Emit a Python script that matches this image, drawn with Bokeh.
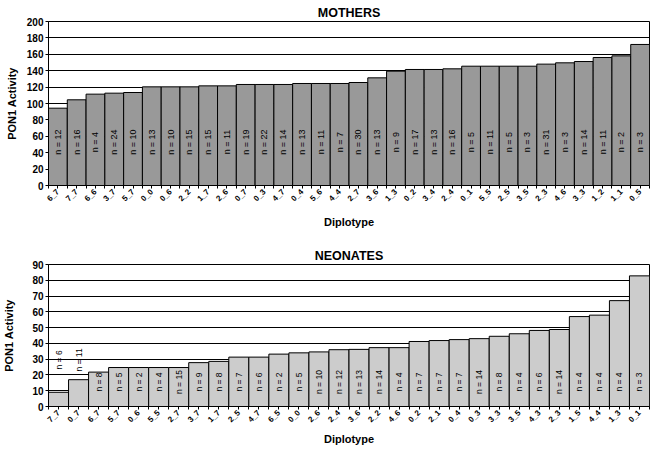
import math
from bokeh.plotting import figure
from bokeh.layouts import column
from bokeh.models import Range1d, FixedTicker, ColumnDataSource
from bokeh.embed import file_html
from bokeh.resources import INLINE
from bokeh.core.properties import value

# ---------------- data ----------------
mothers_cats = ["6_7", "7_7", "6_6", "3_7", "5_7", "0_0", "0_6", "2_2", "1_7", "2_6",
                "0_7", "0_3", "4_7", "0_4", "5_6", "4_4", "2_7", "3_6", "1_3", "0_2",
                "3_4", "2_4", "0_1", "5_5", "2_5", "3_5", "2_3", "4_6", "3_3", "1_2",
                "1_1", "0_5"]
mothers_vals = [94.3, 104.5, 111.4, 112.6, 113.4, 120.3, 120.3, 120.3, 121.5, 121.5,
                123.2, 123.2, 123.2, 124.4, 124.4, 124.4, 125.6, 131.3, 139.4, 141.5,
                141.5, 142.3, 145.5, 145.5, 145.5, 145.5, 148.0, 149.6, 151.2, 156.1,
                158.1, 172.0]
mothers_n = [12, 16, 4, 24, 10, 13, 10, 15, 15, 11, 19, 22, 14, 13, 11, 7, 30, 13, 9, 17,
             13, 16, 5, 11, 5, 3, 31, 3, 14, 11, 2, 3]
mothers_yticks = [0, 20, 40, 60, 80, 100, 120, 140, 160, 180, 200]

neonates_cats = ["7_7", "0_7", "6_7", "5_7", "0_6", "5_5", "2_7", "3_7", "1_7", "2_5",
                 "4_7", "6_5", "0_0", "2_6", "2_4", "3_6", "2_2", "4_6", "0_2", "2_1",
                 "0_4", "0_3", "3_3", "3_5", "4_3", "2_3", "1_5", "4_4", "1_3", "0_1"]
neonates_vals = [9.0, 17.0, 21.8, 24.7, 24.7, 24.7, 24.7, 27.8, 28.6, 31.3,
                 31.3, 33.2, 34.0, 34.6, 36.0, 36.2, 37.3, 37.3, 41.2, 41.8,
                 42.4, 43.0, 44.5, 46.1, 48.2, 48.8, 57.0, 57.9, 67.1, 82.8]
neonates_n = [6, 11, 8, 5, 2, 4, 15, 9, 8, 7, 6, 2, 5, 10, 12, 13, 14, 4, 7, 7,
              7, 14, 8, 4, 6, 14, 4, 4, 4, 3]
neonates_yticks = [0, 10, 20, 30, 40, 50, 60, 70, 80, 90]

FONT = "Liberation Sans"


def make_chart(title, cats, vals, ns, yticks, fill, height, b_top, b_bottom, b_right,
               label_level, short_level, n_font, ylab_standoff, xlab_standoff):
    N = len(cats)
    centers = [i + 0.5 for i in range(N)]
    label_y = [label_level if v > 20 else short_level for v in vals] if short_level else [label_level] * N
    src = ColumnDataSource(dict(x=centers, top=vals,
                                lab=["n = %d" % n for n in ns], ly=label_y))
    p = figure(width=652, height=height, x_range=Range1d(0, N),
               y_range=Range1d(yticks[0], yticks[-1]),
               output_backend="svg", toolbar_location=None,
               min_border_left=41, min_border_right=b_right,
               min_border_top=b_top, min_border_bottom=b_bottom)
    p.title.text = title
    p.title.align = "center"
    p.title.text_font = FONT
    p.title.text_font_size = "12.5px"
    p.title.text_font_style = "bold"
    p.title.text_color = "black"
    p.title.standoff = 3

    p.vbar(x="x", top="top", bottom=0, width=1, source=src,
           fill_color=fill, line_color="black", line_width=1)
    p.text(x="x", y="ly", text="lab", source=src, angle=math.pi / 2,
           text_align="center", text_baseline="middle",
           text_font=value(FONT), text_font_size=n_font, text_color="black")

    # x axis
    p.xaxis.ticker = FixedTicker(ticks=centers, minor_ticks=list(range(N + 1)))
    p.xaxis.major_label_overrides = {c: cat for c, cat in zip(centers, cats)}
    p.xaxis.major_label_orientation = math.pi / 4
    p.xaxis.major_label_text_font = FONT
    p.xaxis.major_label_text_font_size = "8px"
    p.xaxis.major_label_text_font_style = "bold"
    p.xaxis.major_label_text_color = "black"
    p.xaxis.major_label_standoff = 2
    p.xaxis.major_tick_out = 3
    p.xaxis.major_tick_in = 0
    p.xaxis.minor_tick_out = 3
    p.xaxis.minor_tick_in = 0
    p.xaxis.axis_label = "Diplotype"
    p.xaxis.axis_label_text_font = FONT
    p.xaxis.axis_label_text_font_size = "11px"
    p.xaxis.axis_label_text_font_style = "bold"
    p.xaxis.axis_label_text_color = "black"
    p.xaxis.axis_label_standoff = xlab_standoff

    # y axis
    p.yaxis.ticker = FixedTicker(ticks=yticks)
    p.yaxis.major_label_text_font = FONT
    p.yaxis.major_label_text_font_size = "10px"
    p.yaxis.major_label_text_font_style = "bold"
    p.yaxis.major_label_text_color = "black"
    p.yaxis.major_label_standoff = 2
    p.yaxis.major_tick_out = 3
    p.yaxis.major_tick_in = 0
    p.yaxis.minor_tick_line_color = None
    p.yaxis.axis_label = "PON1 Activity"
    p.yaxis.axis_label_text_font = FONT
    p.yaxis.axis_label_text_font_size = "11px"
    p.yaxis.axis_label_text_font_style = "bold"
    p.yaxis.axis_label_text_color = "black"
    p.yaxis.axis_label_standoff = ylab_standoff

    for ax in (p.xaxis, p.yaxis):
        ax.axis_line_color = "black"
        ax.major_tick_line_color = "black"
    p.xaxis.minor_tick_line_color = "black"

    p.xgrid.visible = False
    p.ygrid.grid_line_color = "black"
    p.ygrid.grid_line_width = 1
    p.outline_line_color = "black"
    p.background_fill_color = "white"
    p.border_fill_color = "white"
    return p


top = make_chart("MOTHERS", mothers_cats, mothers_vals, mothers_n, mothers_yticks,
                 "#999999", 237, 21, 52, 0, 53, None, "9px", 6, 7)
bottom = make_chart("NEONATES", neonates_cats, neonates_vals, neonates_n, neonates_yticks,
                    "#cccccc", 211, 27, 40, 3, 15.5, 29.5, "8.5px", 14, 3)

layout = column(top, bottom, spacing=0)
open("out.html", "w").write(file_html(layout, INLINE))
